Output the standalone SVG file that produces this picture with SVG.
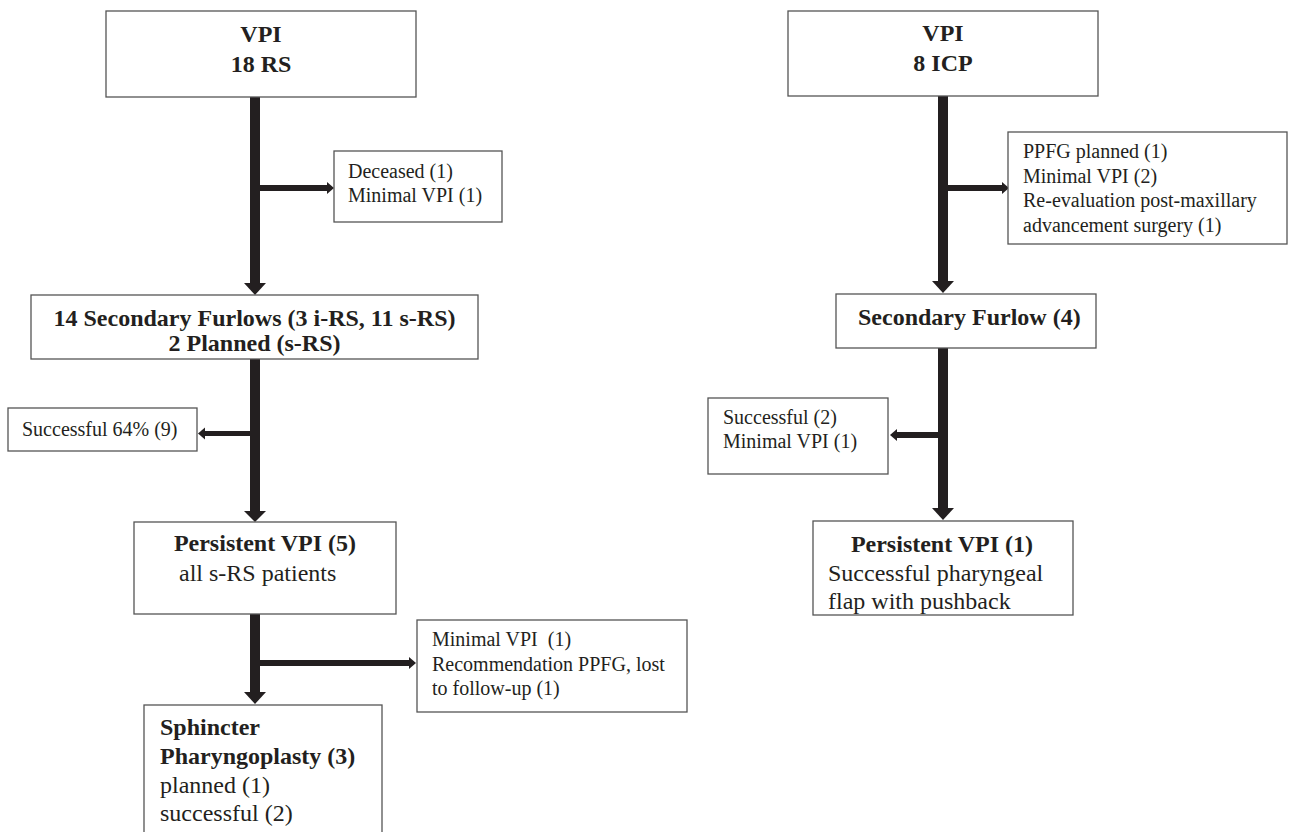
<svg xmlns="http://www.w3.org/2000/svg" width="1289" height="832" viewBox="0 0 1289 832">
<style>
.box{fill:#fff;stroke:#555;stroke-width:1.3}
.b{font-family:"Liberation Serif","Times New Roman",serif;font-weight:bold;font-size:24px;fill:#231f20}
.r{font-family:"Liberation Serif","Times New Roman",serif;font-size:24px;fill:#231f20}
.s{font-family:"Liberation Serif","Times New Roman",serif;font-size:20px;fill:#231f20}
.arr{fill:#231f20}
</style>
<rect width="1289" height="832" fill="#fff"/>
<g id="connectors" class="arr">
<rect x="250" y="97" width="10" height="187"/><polygon points="244,283 266,283 255,295"/>
<rect x="260" y="185" width="68" height="6"/><polygon points="327,182 334,188 327,194"/>
<rect x="250" y="359" width="10" height="153"/><polygon points="244,511 266,511 255,522"/>
<rect x="204" y="431" width="46" height="5"/><polygon points="205,427.5 198,433.5 205,439.5"/>
<rect x="250" y="614" width="10" height="79"/><polygon points="244,692 266,692 255,704"/>
<rect x="260" y="660" width="150" height="6"/><polygon points="409,657 416,663 409,669"/>
<rect x="938" y="96" width="10" height="186"/><polygon points="932,281 954,281 943,293"/>
<rect x="948" y="185" width="55" height="6"/><polygon points="1002,182 1009,188 1002,194"/>
<rect x="938" y="348" width="10" height="161"/><polygon points="932,508 954,508 943,520"/>
<rect x="896" y="432" width="42" height="6"/><polygon points="897,429 890,435 897,441"/>
</g>
<g id="n1"><rect class="box" x="106" y="11" width="310" height="86"/>
<text class="b" x="261" y="42" text-anchor="middle">VPI</text><text class="b" x="261" y="72" text-anchor="middle">18 RS</text></g>
<g id="n2"><rect class="box" x="334" y="151" width="168" height="71"/>
<text class="s" x="348" y="178">Deceased (1)</text><text class="s" x="348" y="202">Minimal VPI (1)</text></g>
<g id="n3"><rect class="box" x="31" y="295" width="447" height="64"/>
<text class="b" x="254.5" y="326" text-anchor="middle">14 Secondary Furlows (3 i-RS, 11 s-RS)</text><text class="b" x="254.5" y="351" text-anchor="middle">2 Planned (s-RS)</text></g>
<g id="n4"><rect class="box" x="8" y="408" width="189" height="43"/>
<text class="s" x="22" y="436">Successful 64% (9)</text></g>
<g id="n5"><rect class="box" x="134" y="522" width="262" height="92"/>
<text class="b" x="265" y="551" text-anchor="middle">Persistent VPI (5)</text><text class="r" x="179" y="581">all s-RS patients</text></g>
<g id="n6"><rect class="box" x="417" y="620" width="270" height="92"/>
<text class="s" x="432" y="646" xml:space="preserve">Minimal VPI  (1)</text><text class="s" x="432" y="671">Recommendation PPFG, lost</text><text class="s" x="432" y="695">to follow-up (1)</text></g>
<g id="n7"><rect class="box" x="144" y="705" width="238" height="140"/>
<text class="b" x="160" y="735">Sphincter</text><text class="b" x="160" y="764">Pharyngoplasty (3)</text><text class="r" x="160" y="793">planned (1)</text><text class="r" x="160" y="821">successful (2)</text></g>
<g id="n8"><rect class="box" x="788" y="11" width="310" height="85"/>
<text class="b" x="943" y="41" text-anchor="middle">VPI</text><text class="b" x="943" y="71" text-anchor="middle">8 ICP</text></g>
<g id="n9"><rect class="box" x="1008" y="132" width="279" height="112"/>
<text class="s" x="1023" y="158">PPFG planned (1)</text><text class="s" x="1023" y="183">Minimal VPI (2)</text><text class="s" x="1023" y="207">Re-evaluation post-maxillary</text><text class="s" x="1023" y="232">advancement surgery (1)</text></g>
<g id="n10"><rect class="box" x="836" y="294" width="260" height="54"/>
<text class="b" x="858" y="325">Secondary Furlow (4)</text></g>
<g id="n11"><rect class="box" x="708" y="398" width="180" height="76"/>
<text class="s" x="723" y="424">Successful (2)</text><text class="s" x="723" y="448">Minimal VPI (1)</text></g>
<g id="n12"><rect class="box" x="813" y="521" width="260" height="94"/>
<text class="b" x="942" y="552" text-anchor="middle">Persistent VPI (1)</text><text class="r" x="828" y="581">Successful pharyngeal</text><text class="r" x="828" y="609">flap with pushback</text></g>
</svg>
